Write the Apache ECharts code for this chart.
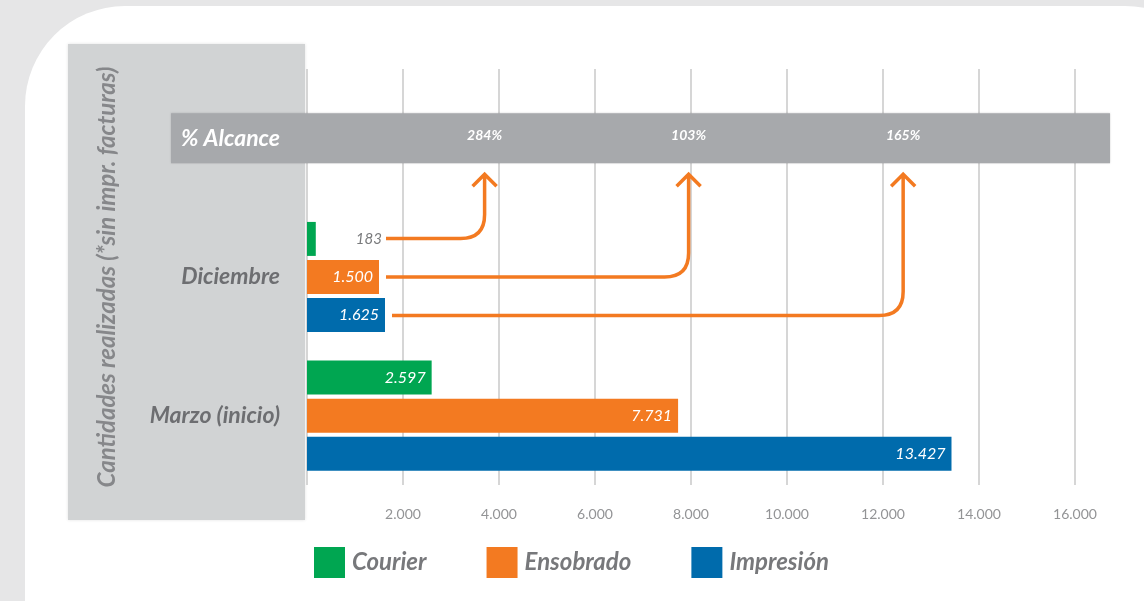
<!DOCTYPE html>
<html>
<head>
<meta charset="utf-8">
<script src="https://cdn.jsdelivr.net/npm/echarts@6/dist/echarts.min.js"></script>
<style>
  html, body { margin: 0; padding: 0; background: #e6e6e7; }
  #chart { width: 1144px; height: 601px; }
</style>
</head>
<body>
<div id="chart"></div>
<script>
// data
const categories = ['% Alcance', 'Diciembre', 'Marzo (inicio)']
const courier = ['-', 183, 2597]
const ensobrado = ['-', 1500, 7731]
const impresion = ['-', 1625, 13427]
const alcance = ['284%', '103%', '165%']
const xTicks = [0, 2000, 4000, 6000, 8000, 10000, 12000, 14000, 16000]

// layout (axis units) for the % Alcance band and its arrows
const alcancePos = [3700, 7950, 12420]
const alcanceEnd = 16730

const font = 'Lato, "Open Sans", sans-serif'
const green = '#00a651'
const orange = '#f37a21'
const blue = '#006bac'

const fmt = (v) => String(v).replace(/\B(?=(\d{3})+(?!\d))/g, '.')

const chart = echarts.init(document.getElementById('chart'))

const barLabel = {
  show: true,
  position: 'insideRight',
  distance: 6,
  color: '#fff',
  fontFamily: font,
  fontStyle: 'italic',
  fontSize: 16,
  formatter: (p) => fmt(p.value),
}

function barSeries(name, values, color) {
  return {
    name: name,
    type: 'bar',
    barWidth: 34,
    barGap: '12%',
    data: values.map((v) => {
      if (v !== '-' && v < 500) {
        return {
          value: v,
          label: { position: 'right', distance: 40, color: '#7a7b7d', fontSize: 15 },
        }
      }
      return v
    }),
    itemStyle: { color: color },
    label: barLabel,
    emphasis: { disabled: true },
    z: 3,
  }
}

const option = {
  animation: false,
  backgroundColor: '#e6e6e7',
  graphic: [
    {
      type: 'rect',
      z: -10,
      shape: { x: 25, y: 6, width: 1200, height: 700, r: 100 },
      style: { fill: '#ffffff' },
    },
    {
      type: 'rect',
      z: -5,
      shape: { x: 68, y: 44, width: 237, height: 476 },
      style: {
        fill: '#d1d3d4',
        shadowColor: 'rgba(0,0,0,0.12)',
        shadowBlur: 3,
      },
    },
  ],
  grid: { left: 307, right: 69, top: 69, bottom: 116 },
  legend: {
    data: ['Courier', 'Ensobrado', 'Impresión'],
    left: 314,
    top: 547,
    padding: 0,
    icon: 'rect',
    itemWidth: 31,
    itemHeight: 31,
    itemGap: 60,
    textStyle: {
      color: '#77787b',
      fontFamily: font,
      fontSize: 24,
      fontStyle: 'italic',
      fontWeight: 'bold',
      padding: [0, 0, 0, 2],
    },
  },
  xAxis: {
    type: 'value',
    min: xTicks[0],
    max: xTicks[xTicks.length - 1],
    interval: 2000,
    axisLine: { show: false },
    axisTick: { show: false },
    splitLine: { lineStyle: { color: '#d6d6d6', width: 2 } },
    axisLabel: {
      margin: 22,
      color: '#939496',
      fontFamily: font,
      fontSize: 14,
      formatter: (v) => (v === 0 ? '' : fmt(v)),
    },
  },
  yAxis: {
    type: 'category',
    data: categories,
    inverse: true,
    z: 6,
    axisLine: { show: false },
    axisTick: { show: false },
    name: 'Cantidades realizadas (*sin impr. facturas)',
    nameLocation: 'middle',
    nameRotate: 90,
    nameGap: 188,
    nameTextStyle: {
      color: '#86878a',
      fontFamily: font,
      fontSize: 24,
      fontStyle: 'italic',
      fontWeight: 'bold',
    },
    axisLabel: {
      margin: 27,
      formatter: (v) => (v === categories[0] ? '{alc|' + v + '}' : '{cat|' + v + '}'),
      rich: {
        alc: { color: '#ffffff', fontFamily: font, fontSize: 23, fontStyle: 'italic', fontWeight: 'bold' },
        cat: { color: '#6d6e71', fontFamily: font, fontSize: 23, fontStyle: 'italic', fontWeight: 'bold' },
      },
    },
  },
  series: [
    {
      name: 'alcanceBand',
      type: 'custom',
      z: 4,
      clip: false,
      silent: true,
      data: [0],
      renderItem: (params, api) => {
        const y = api.coord([0, 0])[1]
        const x0 = api.coord([0, 0])[0] - 136
        const x1 = api.coord([alcanceEnd, 0])[0]
        const children = [
          {
            type: 'rect',
            shape: { x: x0, y: y - 25, width: x1 - x0, height: 50 },
            style: { fill: '#a7a9ac', shadowColor: 'rgba(0,0,0,0.15)', shadowBlur: 2 },
          },
        ]
        alcance.forEach((t, i) => {
          const p = api.coord([alcancePos[i], 0])
          children.push({
            type: 'text',
            style: {
              text: t,
              x: p[0],
              y: p[1] - 3,
              align: 'center',
              verticalAlign: 'middle',
              fill: '#ffffff',
              font: 'italic bold 14px ' + font,
            },
          })
        })
        return { type: 'group', children: children }
      },
    },
    barSeries('Courier', courier, green),
    barSeries('Ensobrado', ensobrado, orange),
    barSeries('Impresión', impresion, blue),
    {
      name: 'arrows',
      type: 'custom',
      z: 5,
      clip: false,
      silent: true,
      data: alcancePos.map((v, i) => [v, i]),
      renderItem: (params, api) => {
        const i = params.dataIndex
        const tx = api.coord([api.value(0), 0])[0]
        const sx = api.coord([impresion[1], 1])[0] + (i === 2 ? 7 : 1)
        const by = api.coord([0, 1])[1] + (i - 1) * 38.5
        const ty = api.coord([0, 0])[1] + 36
        const r = 24
        const d =
          'M' + sx + ' ' + by +
          ' L' + (tx - r) + ' ' + by +
          ' Q' + tx + ' ' + by + ' ' + tx + ' ' + (by - r) +
          ' L' + tx + ' ' + ty +
          ' M' + (tx - 12) + ' ' + (ty + 12) +
          ' L' + tx + ' ' + ty +
          ' L' + (tx + 12) + ' ' + (ty + 12)
        return {
          type: 'path',
          shape: { pathData: d },
          style: { fill: 'none', stroke: orange, lineWidth: 3.5 },
        }
      },
    },
  ],
}

chart.setOption(option)
</script>
</body>
</html>
